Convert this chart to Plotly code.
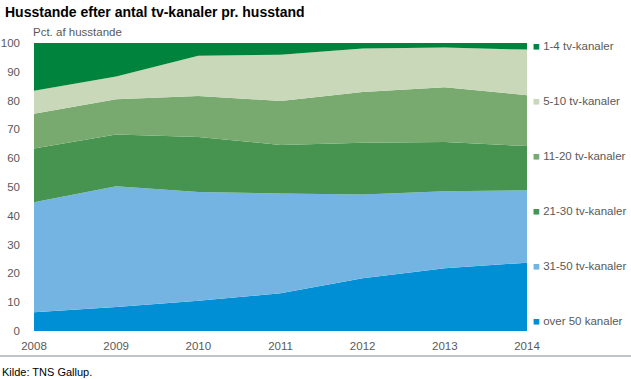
import plotly.graph_objects as go

years = [2008, 2009, 2010, 2011, 2012, 2013, 2014]
over_50 = [6.5, 8.3, 10.5, 13.1, 18.3, 21.8, 23.7]
ch_31_50 = [38.2, 42.0, 37.8, 34.6, 29.1, 26.7, 25.2]
ch_21_30 = [18.7, 17.9, 19.1, 16.9, 18.0, 17.1, 15.3]
ch_11_20 = [12.0, 12.3, 14.2, 15.3, 17.6, 19.0, 17.7]
ch_5_10 = [8.0, 7.9, 14.0, 16.0, 15.1, 13.8, 15.8]
ch_1_4 = [16.6, 11.6, 4.4, 4.1, 1.9, 1.6, 2.3]

series = [
    ("over 50 kanaler", over_50, "#008FD5"),
    ("31-50 tv-kanaler", ch_31_50, "#74B4E3"),
    ("21-30 tv-kanaler", ch_21_30, "#46944F"),
    ("11-20 tv-kanaler", ch_11_20, "#78A96E"),
    ("5-10 tv-kanaler", ch_5_10, "#C8D8B8"),
    ("1-4 tv-kanaler", ch_1_4, "#00843D"),
]

FONT = "Liberation Sans, Arial, sans-serif"
GREY = "#595959"

fig = go.Figure()
for name, vals, col in series:
    fig.add_trace(go.Scatter(
        x=years, y=vals, name=name, mode="lines", stackgroup="one",
        line=dict(width=0, color=col), fillcolor=col, showlegend=False,
    ))

L, R, T, B = 34, 104, 43, 48
W, H = 631, 379
pw = W - L - R
ph = H - T - B

def px_x(p):
    return (p - L) / pw

def px_y(p):
    return (H - B - p) / ph

annotations = []
legend_y = [46, 101, 156, 211, 266, 321]
for (name, vals, col), py in zip(reversed(series), legend_y):
    annotations.append(dict(
        xref="paper", yref="paper", x=px_x(531), y=px_y(py),
        xanchor="left", yanchor="middle", showarrow=False,
        text=f"<span style='color:{col}'>■</span> {name}",
        font=dict(family=FONT, size=11.5, color=GREY),
    ))

annotations.append(dict(
    xref="paper", yref="paper", x=px_x(3), y=px_y(12),
    xanchor="left", yanchor="middle", showarrow=False,
    text="<b>Husstande efter antal tv-kanaler pr. husstand</b>",
    font=dict(family=FONT, size=14, color="#000000"),
))
annotations.append(dict(
    xref="paper", yref="paper", x=px_x(31), y=px_y(32),
    xanchor="left", yanchor="middle", showarrow=False,
    text="Pct. af husstande",
    font=dict(family=FONT, size=11.5, color=GREY),
))
annotations.append(dict(
    xref="paper", yref="paper", x=px_x(0), y=px_y(372),
    xanchor="left", yanchor="middle", showarrow=False,
    text="Kilde: TNS Gallup.",
    font=dict(family=FONT, size=11, color="#000000"),
))

shapes = [dict(
    type="line", xref="paper", yref="paper",
    x0=px_x(0), x1=px_x(631), y0=px_y(356), y1=px_y(356),
    line=dict(color="#7F8C8D", width=1.2),
)]

fig.update_layout(
    width=W, height=H,
    margin=dict(l=L, r=R, t=T, b=B),
    paper_bgcolor="white", plot_bgcolor="white",
    font=dict(family=FONT, size=11.5, color=GREY),
    annotations=annotations, shapes=shapes,
    xaxis=dict(range=[2008, 2014], tickvals=years, ticktext=[str(y) for y in years],
               showgrid=False, zeroline=False, showline=False, ticks="",
               automargin=False, ticklabelstandoff=6,
               tickfont=dict(family=FONT, size=11.5, color=GREY)),
    yaxis=dict(range=[0, 100], tickvals=list(range(0, 101, 10)),
               showgrid=False, zeroline=False, showline=False, ticks="",
               automargin=False, ticklabelstandoff=13,
               tickfont=dict(family=FONT, size=11.5, color=GREY)),
)

fig.write_html("out.html", config={"displayModeBar": False},
               post_script="document.body.style.margin='0';")
